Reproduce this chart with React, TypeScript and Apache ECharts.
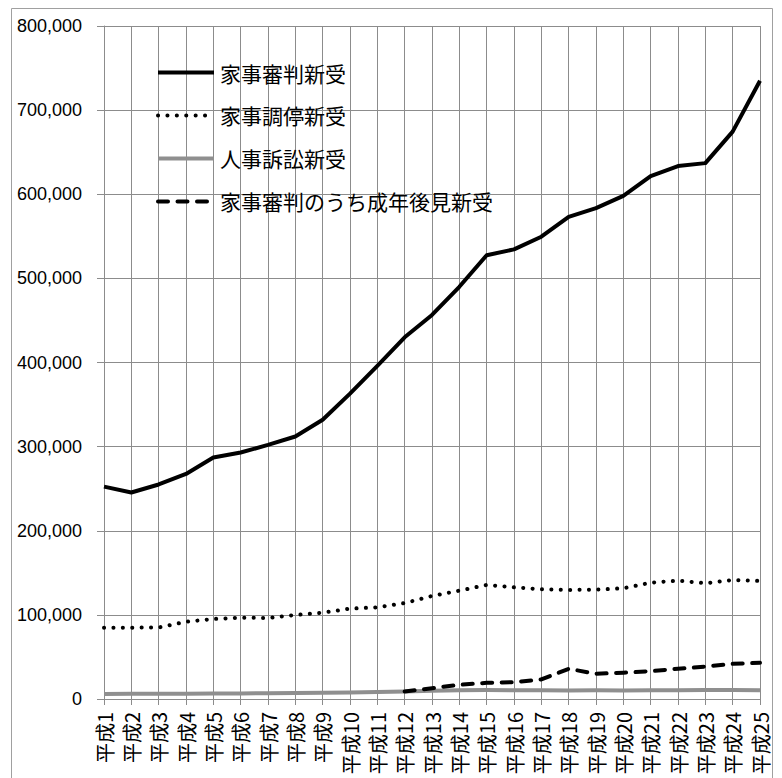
import React, { useEffect, useRef } from "react";
import * as echarts from "echarts";

const categories = [
  "平成1", "平成2", "平成3", "平成4", "平成5", "平成6", "平成7", "平成8", "平成9", "平成10",
  "平成11", "平成12", "平成13", "平成14", "平成15", "平成16", "平成17", "平成18", "平成19", "平成20",
  "平成21", "平成22", "平成23", "平成24", "平成25",
];

const seriesNames = ["家事審判新受", "家事調停新受", "人事訴訟新受", "家事審判のうち成年後見新受"];

const kajiShinpan = [
  252500, 245500, 255000, 267500, 287000, 293000, 302000, 312000, 332000, 363000,
  396000, 430000, 456500, 490000, 527500, 534500, 549500, 573000, 583500, 598000,
  621500, 633500, 637000, 674500, 735000,
];

const kajiChotei = [
  84800, 84800, 85000, 91800, 95100, 96700, 96300, 99900, 102600, 107400,
  109000, 114000, 122500, 128800, 135600, 132800, 130400, 129600, 130000, 131600,
  138300, 140700, 137600, 141500, 140300,
];

const jinjiSosho = [
  6000, 6100, 6200, 6300, 6400, 6600, 6800, 7000, 7300, 7700,
  8200, 8800, 9800, 10500, 10600, 10500, 10300, 10200, 10300, 10200,
  10400, 10500, 10600, 10600, 10300,
];

const seinenKoken = [
  null, null, null, null, null, null, null, null, null, null,
  null, 9000, 12800, 16900, 19200, 20000, 23200, 35900, 30000, 31200,
  33100, 35900, 38600, 41800, 43000,
];

const yTicks = { min: 0, max: 800000, interval: 100000 };

export default function App() {
  const ref = useRef<HTMLDivElement>(null);

  useEffect(() => {
    if (!ref.current) return;
    const chart = echarts.init(ref.current, undefined, { renderer: "svg" });
    const gridColor = "#8c8c8c";
    const styles = [
      { color: "#000", width: 4, type: "solid", cap: "butt" },
      { color: "#000", width: 4, type: [0.1, 9.3], cap: "round" },
      { color: "#8f8f8f", width: 4, type: "solid", cap: "butt" },
      { color: "#000", width: 4, type: [10, 9.5], cap: "round" },
    ];
    const dataSets = [kajiShinpan, kajiChotei, jinjiSosho, seinenKoken];
    chart.setOption({
      animation: false,
      backgroundColor: "#ffffff",
      graphic: [
        {
          type: "rect",
          silent: true,
          z: -10,
          shape: { x: 3.5, y: 0.5, width: 761, height: 800 },
          style: { fill: "none", stroke: "#a0a0a0", lineWidth: 1 },
        },
      ],
      grid: { left: 96, right: 22, top: 18, bottom: 79, containLabel: false },
      legend: {
        orient: "vertical",
        left: 148,
        top: 54,
        padding: 0,
        itemWidth: 56,
        itemHeight: 20,
        itemGap: 22,
        itemStyle: { color: "rgba(0,0,0,0)", borderColor: "rgba(0,0,0,0)", borderWidth: 0, opacity: 0 },
        data: seriesNames.map((name, i) => ({
          name,
          lineStyle: { color: styles[i].color, width: styles[i].width, type: styles[i].type, cap: styles[i].cap },
        })),
        textStyle: {
          fontFamily: "Noto Sans CJK JP",
          fontSize: 21,
          color: "#000",
          lineHeight: 20,
          padding: [0, 0, 0, 1],
        },
      },
      xAxis: {
        type: "category",
        data: categories,
        boundaryGap: false,
        axisLine: { show: true, lineStyle: { color: gridColor, width: 1 } },
        axisTick: { show: true, length: 6, interval: 0, lineStyle: { color: gridColor } },
        splitLine: { show: true, interval: 0, lineStyle: { color: gridColor, width: 1 } },
        axisLabel: {
          interval: 0,
          rotate: 90,
          margin: 13,
          fontSize: 20,
          fontFamily: "Noto Sans CJK JP",
          color: "#000",
        },
      },
      yAxis: {
        type: "value",
        min: yTicks.min,
        max: yTicks.max,
        interval: yTicks.interval,
        axisLine: { show: true, lineStyle: { color: gridColor, width: 1 } },
        axisTick: { show: true, length: 7, lineStyle: { color: gridColor } },
        splitLine: { show: true, lineStyle: { color: gridColor, width: 1 } },
        axisLabel: {
          margin: 22,
          fontSize: 18,
          fontFamily: "Liberation Sans",
          color: "#000",
          formatter: (v: number) => v.toLocaleString("en-US"),
        },
      },
      series: seriesNames.map((name, i) => ({
        name,
        type: "line",
        data: dataSets[i],
        symbol: "none",
        connectNulls: false,
        lineStyle: { ...styles[i], join: "round" },
        itemStyle: { color: styles[i].color },
        z: [5, 4, 3, 6][i],
      })),
    });
    return () => chart.dispose();
  }, []);

  return <div ref={ref} style={{ width: 774, height: 770 }} />;
}
